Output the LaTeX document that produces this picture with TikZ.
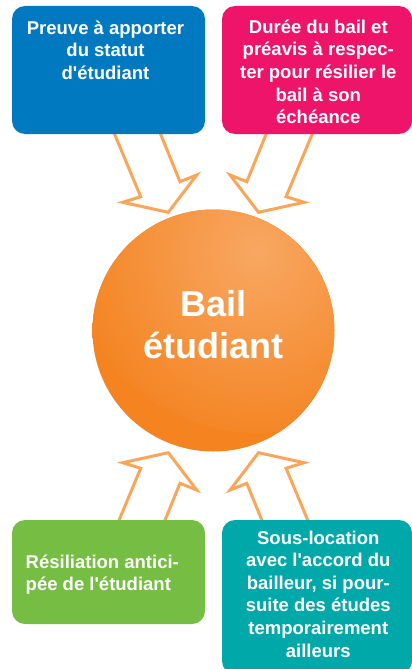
\documentclass[tikz,border=0pt]{standalone}
\usepackage{fontspec}
\setmainfont{Liberation Sans}
\usetikzlibrary{positioning,calc}
\definecolor{cardblue}{RGB}{0,121,193}
\definecolor{cardpink}{RGB}{237,20,106}
\definecolor{cardgreen}{RGB}{118,189,67}
\definecolor{cardteal}{RGB}{0,168,170}

\begin{document}
\begin{tikzpicture}[x=1pt,y=-1pt]
  \definecolor{bailorange}{RGB}{244,131,32}
  \definecolor{bailglow}{RGB}{248,167,98}
  \definecolor{floworange}{RGB}{250,166,90}
  \tikzset{
    card/.style={rectangle, rounded corners=13pt, inner sep=0pt,
      minimum width=193pt, minimum height=128pt},
    cardtext/.style={text=white, inner sep=0pt, anchor=base, align=center,
      font=\fontsize{18.5pt}{22.6pt}\selectfont\bfseries},
    flow/.style={draw=floworange, line width=3pt, line join=miter}
  }
  \useasboundingbox (0,0) rectangle (412,669);

  % ARROWS (one shape, mirrored round the middle)
  \coordinate (mid) at (213.4,332.5);
  \foreach \sx/\sy in {1/1,-1/1,1/-1,-1/-1}{
    \begin{scope}[shift={(mid)}, xscale=\sx, yscale=\sy]
      \draw[flow] (-102.6,-207.5) -- (-72.7,-135.8) -- (-90.7,-130.2)
        -- (-45.1,-120.2) -- (-16.7,-157.5) -- (-33.4,-150.8)
        -- (-56.5,-207.5) -- cycle;
    \end{scope}
  }

  % CARDS
  \node[card, fill=cardblue] (preuve) at (108.5,70) {};
  \node[card, fill=cardpink, minimum width=190pt] (duree) at (317,70) {};
  \node[card, fill=cardgreen, minimum height=104pt] (resil) at (108.5,572) {};
  \node[card, fill=cardteal, minimum width=190pt, minimum height=154pt]
    (sousloc) at (317,597) {};

  % texts sit on their last baseline
  \node[cardtext] (preuvetxt) at (105.5,79.2)
    {Preuve à apporter\\du statut\\d\textquotesingle étudiant};
  \node[cardtext] (dureetxt) at (318.3,123.6)
    {Durée du bail et\\préavis à respec-\\ter pour résilier le\\bail à son\\échéance};
  \node[cardtext, anchor=base west, align=left] (resiltxt) at (25.5,590.8)
    {Résiliation antici-\\pée de l\textquotesingle étudiant};
  \node[cardtext] (sousloctxt) at (318.3,657)
    {Sous-location\\avec l\textquotesingle accord du\\bailleur, si pour-\\suite des études\\temporairement\\ailleurs};

  % CENTRE
  \node[circle, minimum size=242pt, inner sep=0pt, fill=bailorange,
    path picture={\shade[inner color=bailglow, outer color=bailorange]
      ([shift={(43.5,-87.5)}]path picture bounding box.center) circle (190pt);}]
    (bail) at (213.5,330.5) {};
  \node[cardtext, font=\fontsize{36pt}{41.6pt}\selectfont\bfseries]
    (bailtxt) at (213.5,358.3) {Bail\\étudiant};
\end{tikzpicture}
\end{document}
